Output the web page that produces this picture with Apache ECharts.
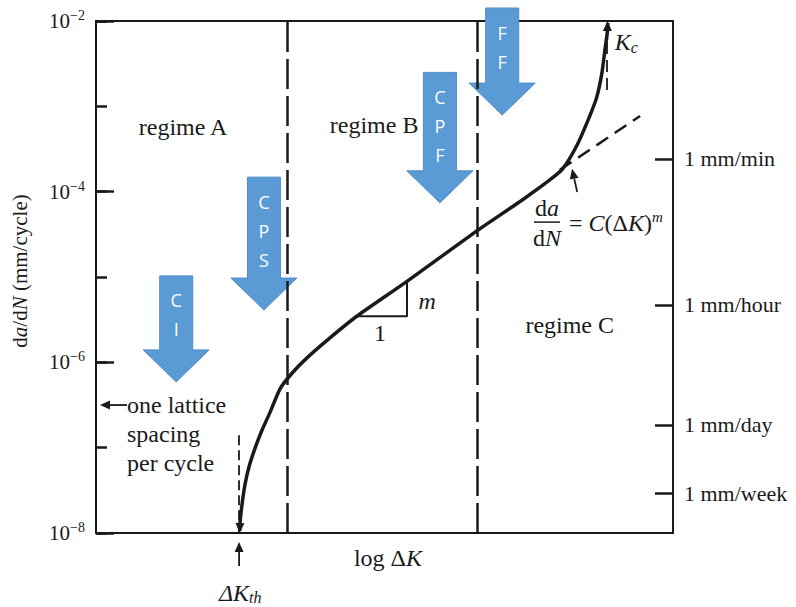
<!DOCTYPE html>
<html>
<head>
<meta charset="utf-8">
<script src="https://cdn.jsdelivr.net/npm/echarts@6/dist/echarts.min.js"></script>
<style>
html, body { margin: 0; padding: 0; background: #fff; }
#main { width: 796px; height: 607px; }
</style>
</head>
<body>
<div id="main"></div>
<script>
// x is log ΔK in arbitrary units (0..10), y is da/dN in mm/cycle
const curveX = [2.49, 2.50, 2.53, 2.58, 2.65, 2.76, 2.88, 3.02, 3.19, 3.40, 3.67, 4.06, 4.52,
  5.39, 6.60, 7.40, 7.87, 8.09, 8.34, 8.56, 8.68, 8.77, 8.82, 8.86, 8.87];
const curveRate = [1.05e-8, 1.41e-8, 2.14e-8, 3.63e-8, 5.89e-8, 1.0e-7, 1.62e-7, 2.63e-7, 4.9e-7,
  7.5e-7, 1.15e-6, 1.95e-6, 3.47e-6, 8.9e-6, 3.47e-5, 8.1e-5, 1.38e-4, 1.86e-4, 3.55e-4, 7.8e-4,
  1.29e-3, 2.5e-3, 4.6e-3, 7.2e-3, 9.5e-3];

const regimeBoundsX = [3.31, 6.60];
const thresholdX = 2.48;
const thresholdRate = [1.4e-7, 1e-8];
const toughnessX = 8.86;
const toughnessRate = [1.55e-3, 1e-2];

const parisX = [8.04, 9.43];
const parisRate = [1.8e-4, 7.7e-4];
const slopeX = [4.52, 5.39, 5.39];
const slopeRate = [3.47e-6, 3.47e-6, 8.9e-6];

const rateMin = 1e-8;
const rateMax = 1e-2;
const speedValues = [2.42e-4, 4.7e-6, 1.85e-7, 2.94e-8];
const speedLabels = ['1 mm/min', '1 mm/hour', '1 mm/day', '1 mm/week'];

const mechLabels = ['C\nI', 'C\nP\nS', 'C\nP\nF', 'F\nF'];
const mechX = [1.39, 2.91, 5.96, 7.04];
const mechTop = [1.03e-5, 1.48e-4, 2.5e-3, 1.42e-2];
const mechTip = [5.9e-7, 4.1e-6, 7.4e-5, 7.9e-4];

// arrows: [fromX, fromRate, toX, toRate]
const arrowsFromTo = [
  [0.537, 3.16e-7, 0.069, 3.16e-7],
  [2.48, 4.1e-9, 2.48, 7.85e-9],
  [8.34, 9.9e-5, 8.25, 1.85e-4],
  [2.50, 1.5e-8, 2.487, 1.0e-8],
  [8.86, 5.98e-3, 8.865, 1.0e-2]
];

const noteText = ['regime A', 'regime B', 'regime C', '{i|m}', '1', '{i|ΔK}{sub|th}'];
const noteX = [1.51, 4.82, 8.21, 5.74, 4.92, 2.50];
const noteRate = [5.7e-4, 6.0e-4, 2.74e-6, 5.2e-6, 2.2e-6, 2.0e-9];

const sideText = ['one lattice\nspacing\nper cycle', '{i|K}{sub|c}'];
const sideX = [0.537, 8.99];
const sideRate = [1.45e-7, 5.6e-3];

const eqX = 7.816;
const eqRate = 4.4e-5;
const eqNum = '{r|d}{i|a}';
const eqDen = '{r|d}{i|N}';
const eqRhs = '{r|= }{i|C}{r|(Δ}{i|K}{r|)}{sup|m}';

const ink = '#1a1a1a';
const serif = 'Liberation Serif';
const rich = {
  r: { fontFamily: serif, fontSize: 24, color: ink, fill: ink },
  i: { fontFamily: serif, fontSize: 24, fontStyle: 'italic', color: ink, fill: ink },
  n: { fontFamily: serif, fontSize: 21, color: ink, fill: ink },
  ni: { fontFamily: serif, fontSize: 21, fontStyle: 'italic', color: ink, fill: ink },
  sp: { fontFamily: serif, fontSize: 22, color: ink, fill: ink },
  sub: { fontFamily: serif, fontSize: 16, fontStyle: 'italic', color: ink, fill: ink, padding: [10, 0, 0, 0] },
  sup: { fontFamily: serif, fontSize: 15, fontStyle: 'italic', color: ink, fill: ink, padding: [0, 0, 12, 0] },
  b: { fontFamily: serif, fontSize: 21, color: ink, fill: ink },
  s: { fontFamily: serif, fontSize: 14, color: ink, fill: ink, padding: [0, 0, 11, 0] }
};

function zip(xs, ys) { return xs.map((x, i) => [x, ys[i]]); }

function textStyle(text, x, y, align) {
  return {
    text: text, x: x, y: y, align: align, verticalAlign: 'middle',
    fontFamily: serif, fontSize: 24, lineHeight: 29, fill: ink, rich: rich
  };
}

function renderMech(params, api) {
  const top = api.coord([api.value(0), api.value(1)]);
  const tip = api.coord([api.value(0), api.value(2)]);
  const cx = top[0], shaft = 16.5, head = 33, headH = 32;
  const neck = tip[1] - headH;
  return {
    type: 'group',
    children: [
      {
        type: 'polygon',
        shape: { points: [[cx - shaft, top[1]], [cx + shaft, top[1]], [cx + shaft, neck], [cx + head, neck],
          [cx, tip[1]], [cx - head, neck], [cx - shaft, neck]] },
        style: { fill: '#5b9bd5', stroke: '#4d8cc8', lineWidth: 1 }
      },
      {
        type: 'text',
        style: { text: mechLabels[params.dataIndex], x: cx, y: top[1] + 10, align: 'center', verticalAlign: 'top',
          fontFamily: 'Open Sans', fontSize: 18, lineHeight: 29, fill: '#fff' }
      }
    ]
  };
}

function renderArrow(params, api) {
  const a = api.coord([api.value(0), api.value(1)]);
  const b = api.coord([api.value(2), api.value(3)]);
  const dx = b[0] - a[0], dy = b[1] - a[1];
  const len = Math.hypot(dx, dy) || 1;
  const ux = dx / len, uy = dy / len;
  const hl = 10, hw = 4.5;
  const bx = b[0] - ux * hl, by = b[1] - uy * hl;
  return {
    type: 'group',
    children: [
      { type: 'line', shape: { x1: a[0], y1: a[1], x2: bx, y2: by }, style: { stroke: ink, lineWidth: 1.8 } },
      { type: 'polygon', shape: { points: [[b[0], b[1]], [bx - uy * hw, by + ux * hw], [bx + uy * hw, by - ux * hw]] },
        style: { fill: ink } }
    ]
  };
}

function renderNote(list, align) {
  return function (params, api) {
    const p = api.coord([api.value(0), api.value(1)]);
    return { type: 'text', style: textStyle(list[params.dataIndex], p[0], p[1], align) };
  };
}

function renderEquation(params, api) {
  const p = api.coord([api.value(0), api.value(1)]);
  return {
    type: 'group', x: p[0], y: p[1],
    children: [
      { type: 'text', style: textStyle(eqNum, 0, -14, 'center') },
      { type: 'line', shape: { x1: -13, y1: 0, x2: 13, y2: 0 }, style: { stroke: ink, lineWidth: 1.5 } },
      { type: 'text', style: textStyle(eqDen, 0, 16, 'center') },
      { type: 'text', style: textStyle(eqRhs, 22, 1, 'left') }
    ]
  };
}

const chart = echarts.init(document.getElementById('main'), null, { renderer: 'svg' });

chart.setOption({
  animation: false,
  backgroundColor: '#fff',
  grid: {
    left: 96, right: 123, top: 21, bottom: 74, outerBoundsMode: 'none',
    show: true, borderColor: ink, borderWidth: 2
  },
  xAxis: {
    type: 'value', min: 0, max: 10,
    axisLine: { show: false }, axisTick: { show: false }, axisLabel: { show: false }, splitLine: { show: false },
    name: '{r|log Δ}{i|K}', nameLocation: 'middle', nameGap: 13,
    nameTextStyle: { rich: rich, padding: [0, 0, 0, 7] }
  },
  yAxis: [
    {
      type: 'log', logBase: 100, min: rateMin, max: rateMax, position: 'left',
      axisLine: { show: false }, splitLine: { show: false },
      axisTick: { inside: true, length: 18, lineStyle: { color: ink, width: 2.5 } },
      axisLabel: {
        margin: 11,
        formatter: function (v) { return '{b|10}{s|−' + Math.abs(Math.round(Math.log10(v))) + '}'; },
        rich: rich
      },
      name: '{n|d}{ni|a}{n|/d}{ni|N}{n| (mm/cycle)}', nameLocation: 'middle', nameGap: 66,
      nameTextStyle: { rich: rich, padding: [0, 0, 0, 12] }
    },
    {
      type: 'log', logBase: 10, min: rateMin, max: rateMax, position: 'left',
      axisLine: { show: false }, splitLine: { show: false }, axisLabel: { show: false },
      axisTick: { inside: true, length: 11, lineStyle: { color: ink, width: 2.5 } }
    },
    {
      type: 'log', min: rateMin, max: rateMax, position: 'right',
      axisLine: { show: false }, splitLine: { show: false },
      axisTick: { inside: true, length: 18, customValues: speedValues, lineStyle: { color: ink, width: 2.5 } },
      axisLabel: {
        margin: 11, customValues: speedValues,
        formatter: function (v) {
          let best = 0;
          speedValues.forEach(function (s, i) {
            if (Math.abs(Math.log10(s) - Math.log10(v)) < Math.abs(Math.log10(speedValues[best]) - Math.log10(v))) best = i;
          });
          return '{sp|' + speedLabels[best] + '}';
        },
        rich: rich
      }
    }
  ],
  series: [
    {
      name: 'crack growth', type: 'line', data: zip(curveX, curveRate),
      symbol: 'none', smooth: 0.2, lineStyle: { color: ink, width: 3.5 },
      markLine: {
        silent: true, symbol: 'none', label: { show: false },
        lineStyle: { color: ink, width: 2.5, type: [30, 7] },
        data: [
          { xAxis: regimeBoundsX[0] },
          { xAxis: regimeBoundsX[1] },
          [{ coord: [thresholdX, thresholdRate[0]], lineStyle: { width: 1.8, type: [10, 5] } },
            { coord: [thresholdX, thresholdRate[1]] }],
          [{ coord: [toughnessX, toughnessRate[0]], lineStyle: { width: 1.8, type: [12, 6] } },
            { coord: [toughnessX, toughnessRate[1]] }]
        ]
      }
    },
    {
      name: 'Paris law', type: 'line', data: zip(parisX, parisRate),
      symbol: 'none', lineStyle: { color: ink, width: 2.5, type: [14, 8] }
    },
    {
      name: 'slope', type: 'line', data: zip(slopeX, slopeRate),
      symbol: 'none', lineStyle: { color: ink, width: 2 }
    },
    {
      name: 'mechanisms', type: 'custom', renderItem: renderMech,
      data: mechX.map((x, i) => [x, mechTop[i], mechTip[i]]), encode: { x: 0, y: [1, 2] }
    },
    {
      name: 'arrows', type: 'custom', renderItem: renderArrow,
      data: arrowsFromTo, encode: { x: [0, 2], y: [1, 3] }
    },
    {
      name: 'notes', type: 'custom', renderItem: renderNote(noteText, 'center'),
      data: zip(noteX, noteRate), encode: { x: 0, y: 1 }
    },
    {
      name: 'side notes', type: 'custom', renderItem: renderNote(sideText, 'left'),
      data: zip(sideX, sideRate), encode: { x: 0, y: 1 }
    },
    {
      name: 'equation', type: 'custom', renderItem: renderEquation,
      data: [[eqX, eqRate]], encode: { x: 0, y: 1 }
    }
  ]
});
</script>
</body>
</html>
